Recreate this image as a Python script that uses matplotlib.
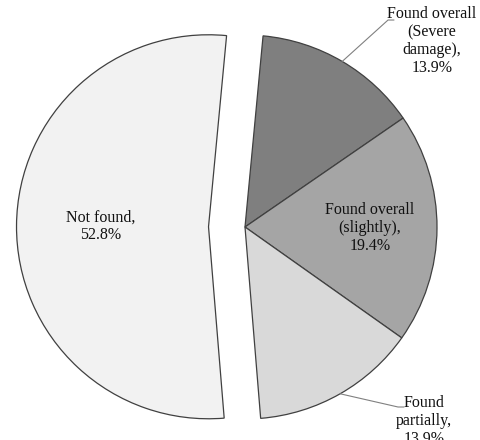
import matplotlib.pyplot as plt
import numpy as np

# slices, clockwise from just right of 12 o'clock
labels = ['Found overall\n(Severe\ndamage),', 'Found overall\n(slightly),',
          'Found\npartially,', 'Not found,']
shares = [13.9, 19.4, 13.9, 52.8]
colors = ['#7f7f7f', '#a5a5a5', '#d9d9d9', '#f2f2f2']
explode = [0, 0, 0, 0.19]

plt.rcParams['font.family'] = ['Liberation Serif', 'DejaVu Serif']

fig = plt.figure(figsize=(4.8, 4.4), dpi=100)
ax = fig.add_axes([0, 0, 1, 1])

wedges, _ = ax.pie(shares, colors=colors, explode=explode, startangle=84.6,
                   counterclock=False, radius=1.0,
                   wedgeprops=dict(edgecolor='#404040', linewidth=0.9))

ax.set_xlim(-245 / 192, 235 / 192)
ax.set_ylim(-213 / 192, 227 / 192)
ax.set_aspect('equal')
ax.axis('off')


def mid_point(w, r):
    ang = np.deg2rad((w.theta1 + w.theta2) / 2)
    cx, cy = w.center
    return cx + r * np.cos(ang), cy + r * np.sin(ang)


def text_of(i):
    return '%s\n%.1f%%' % (labels[i], shares[i])


fs = 11.5
ls = 1.15
# inside labels
x, y = mid_point(wedges[1], 0.65)
ax.text(x, y, text_of(1), ha='center', va='center', fontsize=fs,
        linespacing=ls, color='#111111')
x, y = mid_point(wedges[3], 0.56)
ax.text(x, y, text_of(3), ha='center', va='center', fontsize=fs,
        linespacing=ls, color='#111111')

# outside labels with leader lines
x0, y0 = mid_point(wedges[0], 1.0)
ex, ey = 0.745, 1.078
ax.plot([x0, ex, ex + 0.03], [y0, ey, ey], color='#808080', lw=0.8)
ax.text(0.974, 0.969, text_of(0), ha='center', va='center', fontsize=fs,
        linespacing=ls, color='#111111')

x0, y0 = mid_point(wedges[2], 1.0)
ex, ey = 0.797, -0.9375
ax.plot([x0, ex, ex + 0.03], [y0, ey, ey], color='#808080', lw=0.8)
ax.text(0.932, -1.010, text_of(2), ha='center', va='center', fontsize=fs,
        linespacing=ls, color='#111111')

fig.savefig('out.png', dpi=100)
